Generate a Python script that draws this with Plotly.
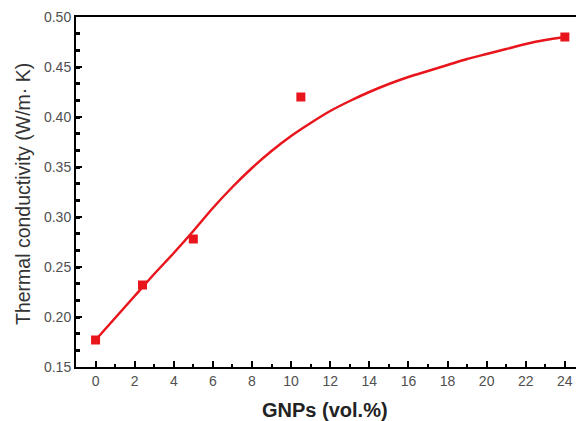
import plotly.graph_objects as go

# measured data points
gnp_vol = [0, 2.4, 5, 10.5, 24]
conductivity = [0.177, 0.232, 0.278, 0.420, 0.480]

# fitted curve
fit_x = [0, 1, 2, 3, 4, 5, 6, 7, 8, 9, 10, 11, 12, 13, 14, 15, 16, 17, 18, 19, 20, 21, 22, 23, 24]
fit_y = [0.177, 0.199, 0.221, 0.243, 0.264, 0.286, 0.309, 0.330, 0.349, 0.366, 0.381, 0.394, 0.406,
         0.416, 0.425, 0.433, 0.440, 0.446, 0.452, 0.458, 0.463, 0.468, 0.473, 0.477, 0.480]

x_ticks = [0, 2, 4, 6, 8, 10, 12, 14, 16, 18, 20, 22, 24]
y_ticks = [0.15, 0.20, 0.25, 0.30, 0.35, 0.40, 0.45, 0.50]

red = "#e8161c"

fig = go.Figure()
fig.add_trace(go.Scatter(x=fit_x, y=fit_y, mode="lines",
                         line=dict(color=red, width=2.5, shape="spline", smoothing=0.8),
                         showlegend=False, hoverinfo="skip"))
fig.add_trace(go.Scatter(x=gnp_vol, y=conductivity, mode="markers",
                         marker=dict(symbol="square", size=9, color=red), showlegend=False))

L, R, T, B = 76, 0, 17, 54
W, H = 576, 421
pw, ph = W - L - R, H - T - B

fig.update_layout(
    width=W, height=H,
    margin=dict(l=L, r=R, t=T, b=B, autoexpand=False),
    paper_bgcolor="white", plot_bgcolor="white",
    font=dict(family="Liberation Sans, Arial", color="#444444"),
    xaxis=dict(range=[-1, 24.57], tickvals=x_ticks, ticktext=[str(v) for v in x_ticks],
               ticks="inside", ticklen=6, tickwidth=1.5, tickcolor="black",
               minor=dict(dtick=1, tick0=1, ticks="inside", ticklen=3, tickwidth=1.5, tickcolor="black"),
               showline=True, linecolor="black", linewidth=2, mirror=True,
               showgrid=False, zeroline=False, tickfont=dict(size=14, color="#505050")),
    yaxis=dict(range=[0.15, 0.50], tickvals=y_ticks, ticktext=["%.2f" % v for v in y_ticks],
               ticks="inside", ticklen=6, tickwidth=1.5, tickcolor="black",
               minor=dict(dtick=0.05 / 3, tick0=0.15, ticks="inside", ticklen=4, tickwidth=2.5, tickcolor="black"),
               showline=True, linecolor="black", linewidth=2, mirror=False,
               showgrid=False, zeroline=False, tickfont=dict(size=14, color="#505050")),
    annotations=[
        dict(text="Thermal conductivity (W/m· K)", x=(23 - L) / pw, y=(H - B - 194) / ph,
             xref="paper", yref="paper", xanchor="center", yanchor="middle",
             showarrow=False, textangle=-90, font=dict(size=19.5, color="#333333")),
        dict(text="<b>GNPs (vol.%)</b>", x=(325 - L) / pw, y=(H - B - 410) / ph,
             xref="paper", yref="paper", xanchor="center", yanchor="middle",
             showarrow=False, font=dict(size=20, color="#222222")),
    ],
)

fig.write_html("out.html", config={"displayModeBar": False},
               post_script="document.body.style.margin='0';document.body.style.padding='0';")
